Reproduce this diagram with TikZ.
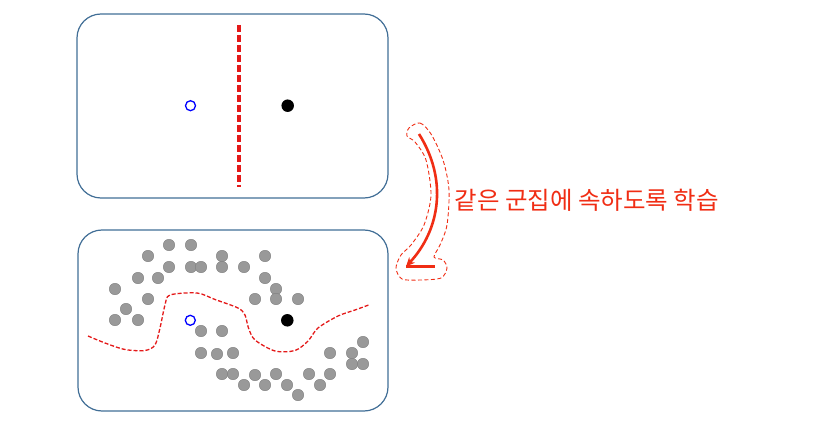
\documentclass[tikz,border=0pt]{standalone}
\usepackage{fontspec}
\newfontfamily\kr{Noto Sans CJK KR}
\usetikzlibrary{arrows.meta}
\definecolor{boxblue}{RGB}{65,110,150}
\definecolor{lred}{RGB}{240,45,20}
\definecolor{cutred}{RGB}{228,25,25}
\begin{document}
\begin{tikzpicture}[x=1pt,y=-1pt,
                   panel/.style={draw=boxblue,line width=1.2pt,rounded corners=24pt},
                   dot/.style={circle,fill=gray!80,draw=gray,inner sep=0pt,minimum size=11.5pt},
                   opendot/.style={circle,draw=blue,line width=1.3pt,inner sep=0pt,minimum size=10pt},
                   fulldot/.style={circle,fill=black,inner sep=0pt,minimum size=12.5pt}]
\useasboundingbox (0,0) rectangle (828,425);
\draw[panel] (77,14) rectangle (388,198);
\draw[panel] (78,230) rectangle (388,411);
\draw[cutred,line width=3.2pt,dash pattern=on 7pt off 3pt] (239,25) -- (239,187);
\node[opendot] (o1) at (190.5,105.7) {};
\node[fulldot] (f1) at (287.7,105.7) {};
\foreach \x/\y [count=\i] in {169/245,191/245,148/256,222/256,265/256,169/267,191/267,201/267,222/267,244/267,
  138/278,158/278,265/278,115/289,276/289,148/299,255/299,276/299,298/299,126/309,115/320,138/320,
  201/331,222/331,201/353,217/354,233/353,330/353,352/353,363/342,352/364,363/364,
  222/374,233/374,255/375,276/374,309/374,330/374,244/385,265/385,287/385,320/385,298/395}
  \node[dot] (d\i) at (\x,\y) {};
\node[opendot] (o2) at (190.3,320.3) {};
\node[fulldot] (f2) at (287.3,320.3) {};
\draw[cutred,line width=1.3pt,dash pattern=on 4pt off 2pt] plot[smooth] coordinates {(88,336) (105,343) (125,349.5) (145,350.5) (155,345) (160,328) (165,305) (170,295) (197,293) (215,299.5) (238,308) (245,315) (248.5,328) (255,340) (275,351) (295,350.5) (308,341) (318,328) (338,316) (355,310) (370,304.5)};
\coordinate (a1) at (419,134);
\coordinate (a2) at (406,266.5);
\coordinate (a3) at (435,266.5);
\draw[lred,line width=2.6pt,-{Stealth[length=9pt,width=8pt]}] (a1) .. controls (448,180) and (440,230) .. (a2);
\draw[lred,line width=2.6pt] (a2) -- (a3);
\draw[lred,line width=0.9pt,dash pattern=on 4pt off 2.5pt] plot[smooth cycle] coordinates {(409,128) (420,123) (431,134) (443,160) (449,190) (447,225) (440,245) (434,257) (443,260) (447,268) (441,278) (420,280) (402,279) (396,268) (401,255) (411,245) (424,225) (431,195) (426,160) (415,142) (407,136)};
\node[text=lred,anchor=west,font=\kr\fontsize{24.5}{28}\selectfont] (lbl) at (451,200) {같은 군집에 속하도록 학습};
\end{tikzpicture}
\end{document}
